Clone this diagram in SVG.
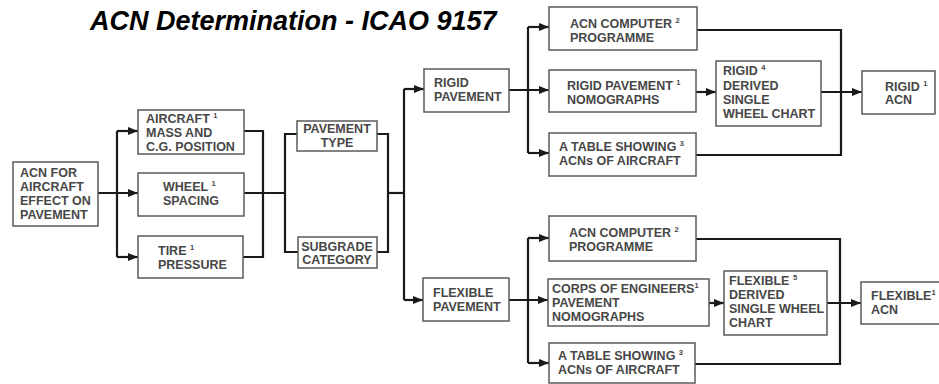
<svg xmlns="http://www.w3.org/2000/svg" width="939" height="384" viewBox="0 0 939 384">
<style>
.box{fill:#fff;stroke:#5a5a5a;stroke-width:1.5}
.t{font-family:"Liberation Sans",Arial,sans-serif;font-weight:bold;font-size:12.5px;fill:#474747}
.s{font-family:"Liberation Sans",Arial,sans-serif;font-weight:bold;font-size:7.5px;fill:#474747}
.c{text-anchor:middle}
.ln{fill:none;stroke:#1a1a1a;stroke-width:2.2}
.title{font-family:"Liberation Sans",Arial,sans-serif;font-weight:bold;font-style:italic;font-size:27px;fill:#000}
</style>
<defs>
<marker id="ah" markerUnits="userSpaceOnUse" markerWidth="10" markerHeight="8" refX="10" refY="4" orient="auto">
<path d="M0,0 L10,4 L0,8 z" fill="#1a1a1a"/>
</marker>
</defs>
<rect width="939" height="384" fill="#fff"/>
<text class="title" x="90" y="30">ACN Determination - ICAO 9157</text>

<g id="connectors">
<path class="ln" d="M98,193 H138" marker-end="url(#ah)"/>
<path class="ln" d="M117,131 V257"/>
<path class="ln" d="M117,131 H138" marker-end="url(#ah)"/>
<path class="ln" d="M117,257 H138" marker-end="url(#ah)"/>
<path class="ln" d="M244,131 H263 V257 H243"/>
<path class="ln" d="M244,193 H285"/>
<path class="ln" d="M297,134 H285 V252 H298"/>
<path class="ln" d="M377,134 H388 V252 H377"/>
<path class="ln" d="M388,193 H404"/>
<path class="ln" d="M404,89 V300"/>
<path class="ln" d="M404,89 H424" marker-end="url(#ah)"/>
<path class="ln" d="M404,300 H423" marker-end="url(#ah)"/>
<path class="ln" d="M509,90 H549" marker-end="url(#ah)"/>
<path class="ln" d="M528,27 V153"/>
<path class="ln" d="M528,27 H549" marker-end="url(#ah)"/>
<path class="ln" d="M528,153 H549" marker-end="url(#ah)"/>
<path class="ln" d="M696,92 H716" marker-end="url(#ah)"/>
<path class="ln" d="M697,30 H841 V155 H696"/>
<path class="ln" d="M821,92 H862" marker-end="url(#ah)"/>
<path class="ln" d="M509,300 H548" marker-end="url(#ah)"/>
<path class="ln" d="M528,238 V363"/>
<path class="ln" d="M528,238 H549" marker-end="url(#ah)"/>
<path class="ln" d="M528,363 H549" marker-end="url(#ah)"/>
<path class="ln" d="M709,303 H724" marker-end="url(#ah)"/>
<path class="ln" d="M696,239 H840 V364 H695"/>
<path class="ln" d="M827,303 H861" marker-end="url(#ah)"/>
</g>

<g id="acn-for">
<rect class="box" x="13" y="162" width="85" height="64"/>
<text class="t" x="20" y="177">ACN FOR</text>
<text class="t" x="20" y="191">AIRCRAFT</text>
<text class="t" x="20" y="205">EFFECT ON</text>
<text class="t" x="20" y="219">PAVEMENT</text>
</g>

<g id="aircraft-mass">
<rect class="box" x="138" y="110" width="106" height="44"/>
<text class="t" x="146" y="123">AIRCRAFT <tspan class="s" dy="-5">1</tspan></text>
<text class="t" x="146" y="137">MASS AND</text>
<text class="t" x="146" y="151">C.G. POSITION</text>
</g>

<g id="wheel-spacing">
<rect class="box" x="138" y="173" width="106" height="43"/>
<text class="t" x="163" y="191">WHEEL <tspan class="s" dy="-5">1</tspan></text>
<text class="t" x="163" y="205">SPACING</text>
</g>

<g id="tire-pressure">
<rect class="box" x="138" y="236" width="105" height="42"/>
<text class="t" x="158" y="255">TIRE <tspan class="s" dy="-5">1</tspan></text>
<text class="t" x="158" y="269">PRESSURE</text>
</g>

<g id="pavement-type">
<rect class="box" x="297" y="121" width="80" height="30"/>
<text class="t c" x="337" y="133">PAVEMENT</text>
<text class="t c" x="337" y="147">TYPE</text>
</g>

<g id="subgrade-category">
<rect class="box" x="298" y="237" width="79" height="31"/>
<text class="t c" x="337" y="251">SUBGRADE</text>
<text class="t c" x="337" y="264">CATEGORY</text>
</g>

<g id="rigid-pavement">
<rect class="box" x="424" y="69" width="85" height="43"/>
<text class="t" x="434" y="87">RIGID</text>
<text class="t" x="434" y="101">PAVEMENT</text>
</g>

<g id="rigid-acn-computer">
<rect class="box" x="549" y="7" width="148" height="43"/>
<text class="t" x="570" y="28">ACN COMPUTER <tspan class="s" dy="-5">2</tspan></text>
<text class="t" x="570" y="42">PROGRAMME</text>
</g>

<g id="rigid-nomographs">
<rect class="box" x="549" y="70" width="147" height="42"/>
<text class="t" x="567" y="90">RIGID PAVEMENT <tspan class="s" dy="-5">1</tspan></text>
<text class="t" x="567" y="104">NOMOGRAPHS</text>
</g>

<g id="rigid-table">
<rect class="box" x="549" y="133" width="147" height="43"/>
<text class="t" x="559" y="151">A TABLE SHOWING <tspan class="s" dy="-5">3</tspan></text>
<text class="t" x="559" y="165">ACNs OF AIRCRAFT</text>
</g>

<g id="rigid-derived">
<rect class="box" x="716" y="61" width="105" height="65"/>
<text class="t" x="723" y="75">RIGID <tspan class="s" dy="-5">4</tspan></text>
<text class="t" x="723" y="90">DERIVED</text>
<text class="t" x="723" y="104">SINGLE</text>
<text class="t" x="723" y="118">WHEEL CHART</text>
</g>

<g id="rigid-acn">
<rect class="box" x="862" y="71" width="73" height="43"/>
<text class="t" x="885" y="91">RIGID <tspan class="s" dy="-5">1</tspan></text>
<text class="t" x="885" y="104">ACN</text>
</g>

<g id="flexible-pavement">
<rect class="box" x="423" y="278" width="86" height="43"/>
<text class="t" x="433" y="297">FLEXIBLE</text>
<text class="t" x="433" y="311">PAVEMENT</text>
</g>

<g id="flex-acn-computer">
<rect class="box" x="549" y="216" width="147" height="45"/>
<text class="t" x="569" y="237">ACN COMPUTER <tspan class="s" dy="-5">2</tspan></text>
<text class="t" x="569" y="251">PROGRAMME</text>
</g>

<g id="flex-nomographs">
<rect class="box" x="548" y="279" width="161" height="47"/>
<text class="t" x="552" y="293">CORPS OF ENGINEERS<tspan class="s" dy="-5">1</tspan></text>
<text class="t" x="552" y="307">PAVEMENT</text>
<text class="t" x="552" y="321">NOMOGRAPHS</text>
</g>

<g id="flex-table">
<rect class="box" x="549" y="343" width="146" height="40"/>
<text class="t" x="558" y="360">A TABLE SHOWING <tspan class="s" dy="-5">3</tspan></text>
<text class="t" x="558" y="374">ACNs OF AIRCRAFT</text>
</g>

<g id="flex-derived">
<rect class="box" x="724" y="271" width="103" height="64"/>
<text class="t" x="729" y="285">FLEXIBLE <tspan class="s" dy="-5">5</tspan></text>
<text class="t" x="729" y="299">DERIVED</text>
<text class="t" x="729" y="313">SINGLE WHEEL</text>
<text class="t" x="729" y="327">CHART</text>
</g>

<g id="flexible-acn">
<rect class="box" x="861" y="282" width="90" height="42"/>
<text class="t" x="871" y="300">FLEXIBLE<tspan class="s" dy="-5">1</tspan></text>
<text class="t" x="871" y="314">ACN</text>
</g>
</svg>
